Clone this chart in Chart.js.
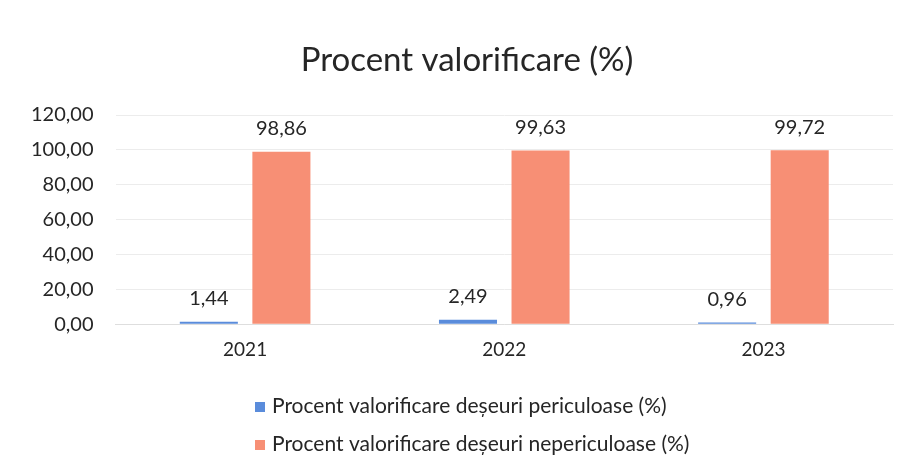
<!DOCTYPE html>
<html>
<head>
<meta charset="utf-8">
<script src="https://cdn.jsdelivr.net/npm/chart.js@4/dist/chart.umd.min.js"></script>
<style>
html,body{margin:0;padding:0;background:#fff;}
#wrap{width:909px;height:472px;position:relative;}
</style>
</head>
<body>
<div id="wrap"><canvas id="c" width="909" height="472"></canvas></div>
<script>
const categories = ['2021', '2022', '2023'];
const hazardous = [1.44, 2.49, 0.96];
const nonHazardous = [98.86, 99.63, 99.72];
const seriesNames = ['Procent valorificare deșeuri periculoase (%)', 'Procent valorificare deșeuri nepericuloase (%)'];
const titleText = 'Procent valorificare (%)';
const yTicks = [0, 20, 40, 60, 80, 100, 120];

const FONT = 'Lato, "Open Sans", sans-serif';
const fmt = v => v.toFixed(2).replace('.', ',');

const valueLabels = {
  id: 'valueLabels',
  afterDatasetsDraw(chart) {
    const ctx = chart.ctx;
    ctx.save();
    ctx.font = '20px ' + FONT;
    ctx.fillStyle = '#262626';
    ctx.textAlign = 'center';
    ctx.textBaseline = 'middle';
    chart.data.datasets.forEach((ds, di) => {
      const meta = chart.getDatasetMeta(di);
      meta.data.forEach((bar, i) => {
        ctx.fillText(fmt(ds.data[i]), bar.x, bar.y - 23);
      });
    });
    ctx.restore();
  }
};

const titleAndLegend = {
  id: 'titleAndLegend',
  afterDraw(chart) {
    const ctx = chart.ctx;
    ctx.save();
    ctx.fillStyle = '#262626';
    ctx.font = '33px ' + FONT;
    ctx.textAlign = 'center';
    ctx.textBaseline = 'middle';
    ctx.fillText(titleText, 467, 60);

    ctx.font = '21px ' + FONT;
    ctx.textAlign = 'left';
    const startX = 255;
    const rows = [406, 444];
    chart.data.datasets.forEach((ds, i) => {
      const y = rows[i];
      ctx.fillStyle = ds.backgroundColor;
      ctx.fillRect(startX, y - 4, 10, 10);
      ctx.fillStyle = '#262626';
      ctx.fillText(ds.label, startX + 17, y);
    });
    ctx.restore();
  }
};

new Chart(document.getElementById('c'), {
  type: 'bar',
  data: {
    labels: categories,
    datasets: [
      { label: seriesNames[0], data: hazardous, backgroundColor: '#5A8CDB', categoryPercentage: 0.56, barPercentage: 0.8 },
      { label: seriesNames[1], data: nonHazardous, backgroundColor: '#F78F75', categoryPercentage: 0.56, barPercentage: 0.8 }
    ]
  },
  options: {
    responsive: false,
    animation: false,
    layout: { padding: { left: 9, right: 16, top: 115, bottom: 97 } },
    plugins: {
      legend: { display: false },
      tooltip: { enabled: false },
      title: { display: false }
    },
    scales: {
      x: {
        grid: { display: false, drawTicks: false },
        border: { display: true, color: '#dedede' },
        ticks: { color: '#262626', font: { family: FONT, size: 19 }, padding: 14 }
      },
      y: {
        min: 0, max: 120,
        afterBuildTicks(axis) { axis.ticks = yTicks.map(v => ({ value: v })); },
        grid: { color: '#ececec', drawTicks: false },
        border: { display: false },
        ticks: { color: '#262626', font: { family: FONT, size: 20 }, padding: 22, callback: v => fmt(v) }
      }
    }
  },
  plugins: [valueLabels, titleAndLegend]
});
</script>
</body>
</html>
